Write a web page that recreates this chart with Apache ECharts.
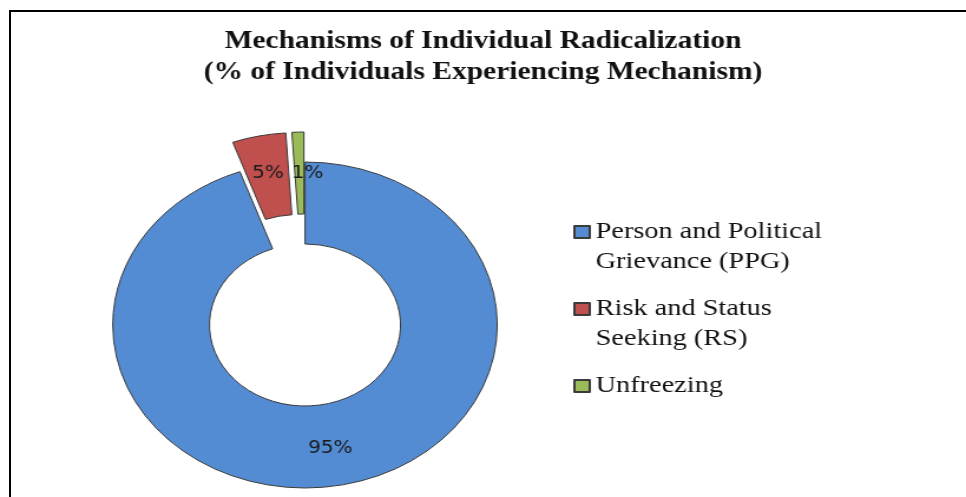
<!DOCTYPE html>
<html>
<head>
<meta charset="utf-8">
<script src="https://cdn.jsdelivr.net/npm/echarts@6/dist/echarts.min.js"></script>
<style>
  html, body { margin: 0; padding: 0; background: #fff; overflow: hidden; width: 966px; height: 497px; }
  /* frame of the original figure, cut off on the right and bottom */
  #frame { position: absolute; left: 9px; top: 10px; width: 2000px; height: 2000px; border: 2px solid #000; }
  /* the source picture is stretched horizontally, so the chart is drawn narrower and scaled */
  #chart { position: absolute; left: 0; top: 0; width: 819px; height: 497px; transform: scaleX(1.17949); transform-origin: 0 0; }
</style>
</head>
<body>
<div id="frame"></div>
<div id="chart"></div>
<script>
// mechanisms, clockwise from 12 o'clock
const categories = ['Person and Political\nGrievance (PPG)', 'Risk and Status\nSeeking (RS)', 'Unfreezing']
const shares = [94.5, 4.5, 1.0]
const colors = ['#538CD3', '#C0504D', '#9BBB59']
const exploded = [false, true, true]

const titleText = 'Mechanisms of Individual Radicalization\n(% of Individuals Experiencing Mechanism)'

const chart = echarts.init(document.getElementById('chart'), null, { renderer: 'canvas' })

// square sitting next to the first text line; the bare moves only set the box size
const legendIcon = 'path://M0,0M0,9h13v12h-13zM0,60'

chart.setOption({
  animation: false,
  title: {
    text: titleText,
    left: 'center',
    top: 26,
    padding: 0,
    textStyle: {
      fontFamily: 'Liberation Serif',
      fontWeight: 'bold',
      fontSize: 25,
      lineHeight: 31,
      color: '#111',
    },
  },
  legend: {
    orient: 'vertical',
    left: 486,
    top: 216,
    padding: 0,
    itemGap: 15,
    itemWidth: 13,
    itemHeight: 60,
    selectedMode: false,
    icon: legendIcon,
    formatter: (name) => (name.indexOf('\n') >= 0 ? name : name + '\n '),
    textStyle: {
      fontFamily: 'Liberation Serif',
      fontSize: 24,
      lineHeight: 30,
      color: '#111',
    },
  },
  series: [
    {
      type: 'pie',
      center: [258.6, 325],
      radius: [81, 163],
      startAngle: 90,
      clockwise: true,
      selectedMode: 'multiple',
      selectedOffset: 30,
      silent: true,
      avoidLabelOverlap: false,
      // the small slice's label sits a little right of its slice, as in Excel
      labelLayout: (p) => (p.dataIndex === 2 ? { dx: 7, dy: 4, hideOverlap: false } : { hideOverlap: false }),
      emphasis: { disabled: true },
      itemStyle: { borderColor: '#3a3a3a', borderWidth: 1 },
      select: {
        itemStyle: { borderColor: '#3a3a3a', borderWidth: 1 },
        label: { show: true },
      },
      label: {
        show: true,
        position: 'inside',
        fontFamily: 'DejaVu Sans',
        fontSize: 17,
        color: '#1a1a1a',
        formatter: (p) => Math.round(p.value) + '%',
      },
      labelLine: { show: false },
      data: categories.map((name, i) => ({
        name,
        value: shares[i],
        selected: exploded[i],
        itemStyle: { color: colors[i] },
      })),
    },
  ],
})
</script>
</body>
</html>
